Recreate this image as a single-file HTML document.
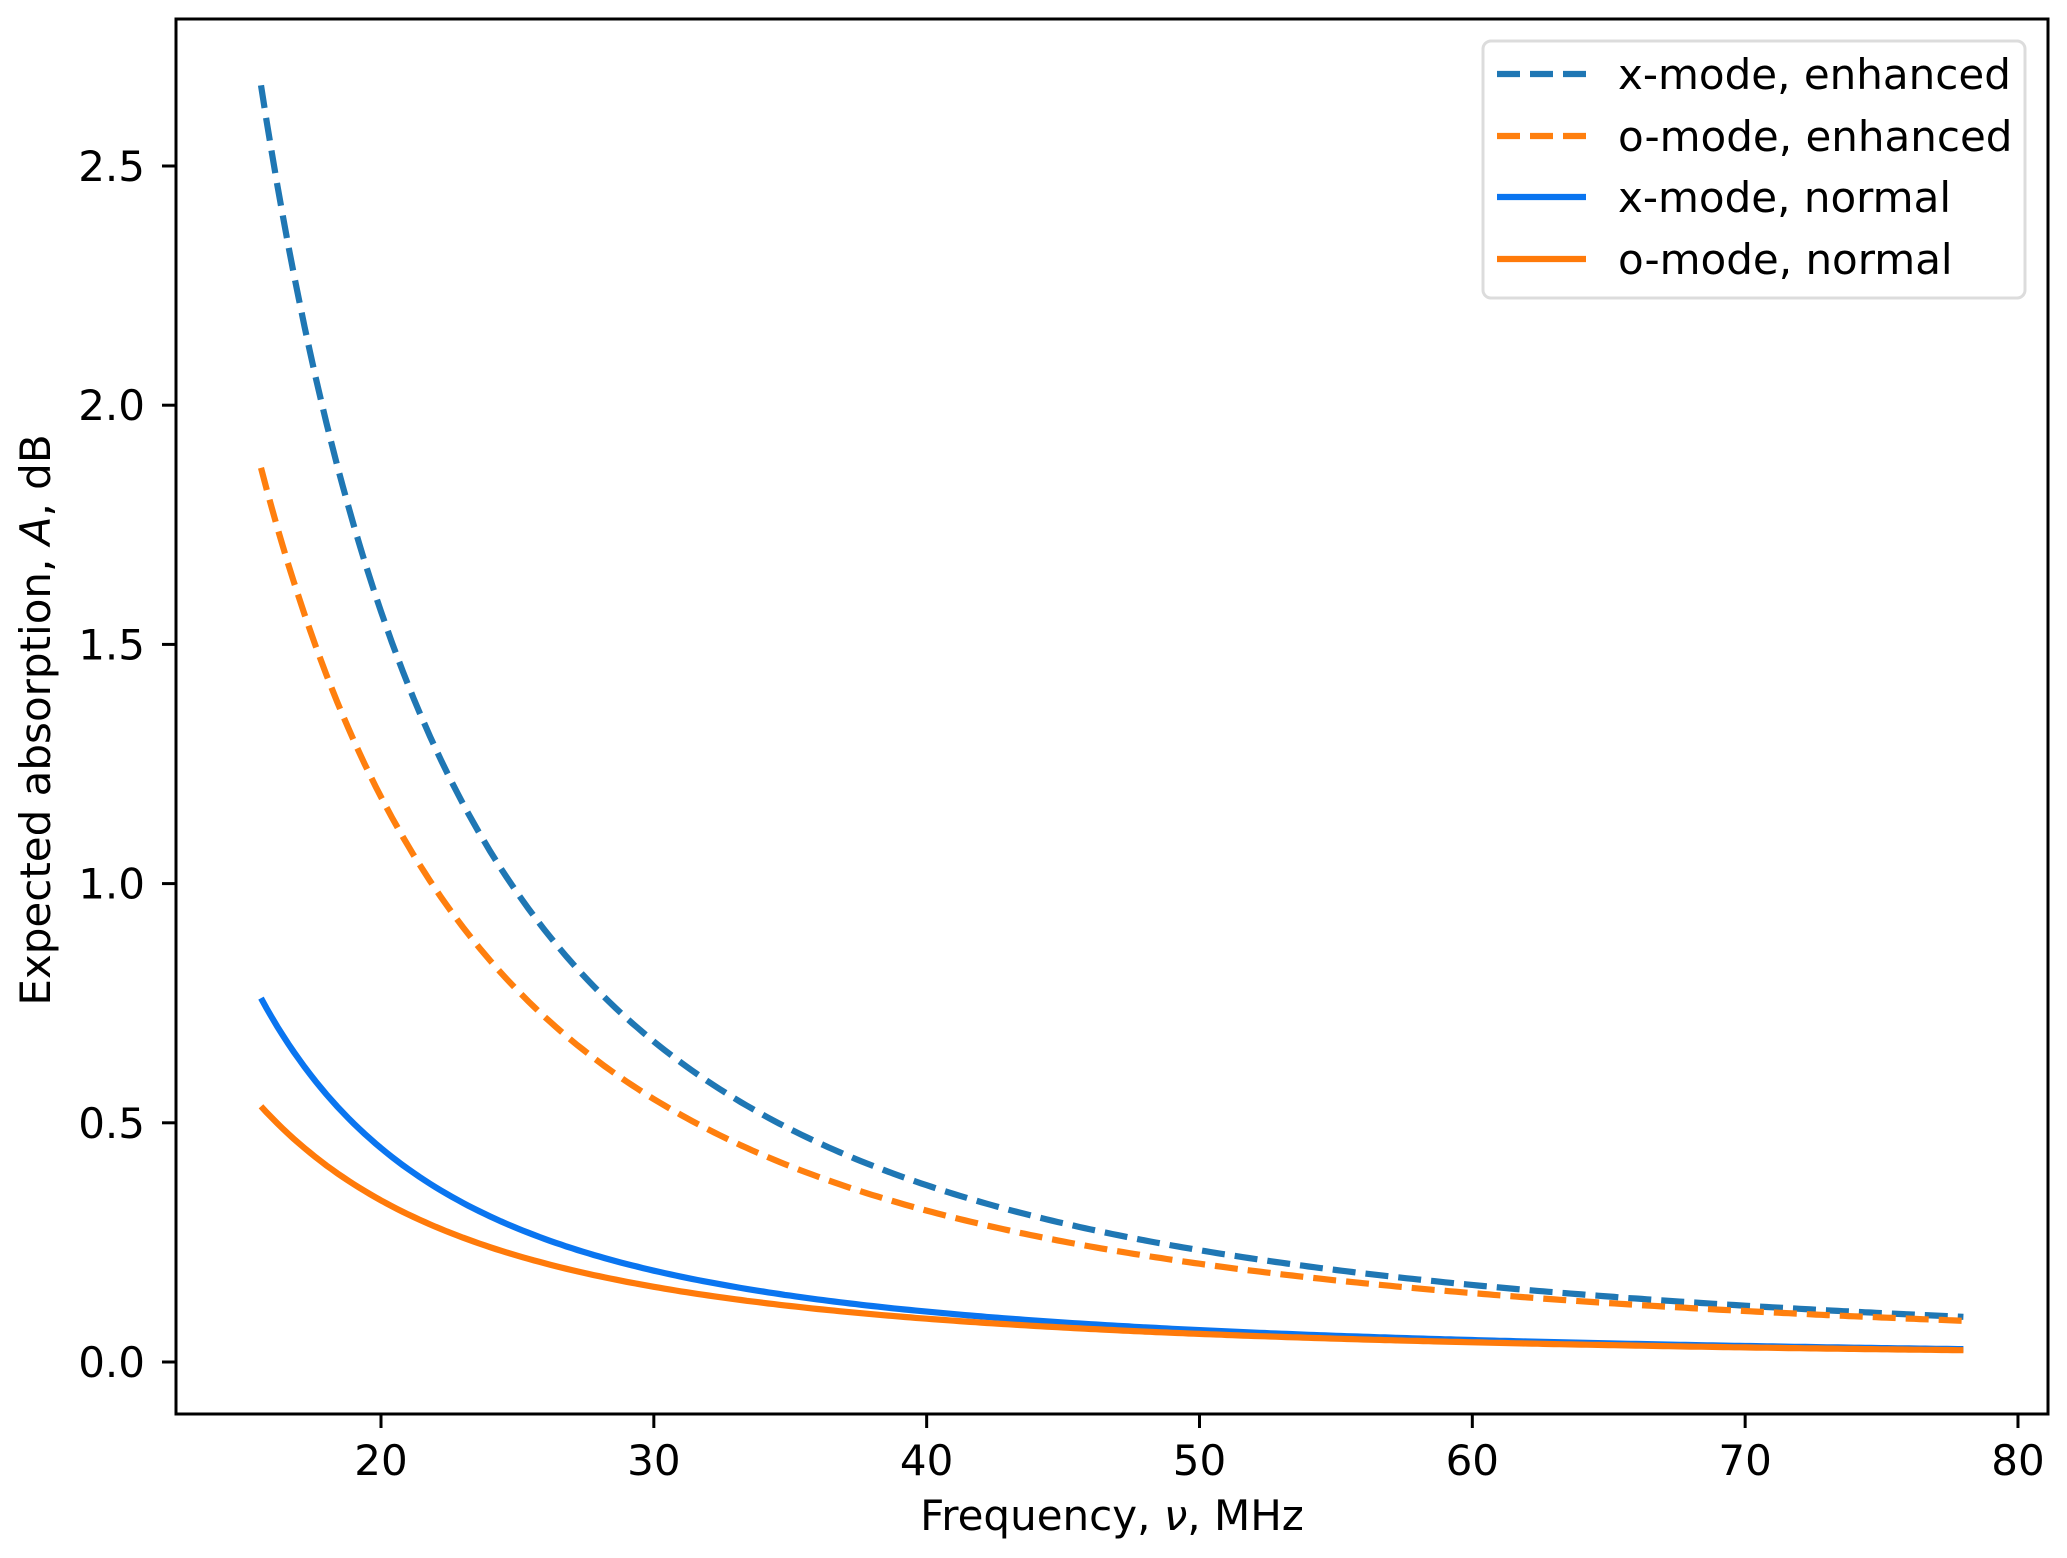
<!DOCTYPE html>
<html><head><meta charset="utf-8"><style>
html,body{margin:0;padding:0;background:#fff;}
svg{display:block;}
text{font-family:"DejaVu Sans","Liberation Sans",sans-serif;fill:#000;}
</style></head><body>
<svg id="s" width="2067" height="1558" viewBox="0 0 2067 1558" xmlns="http://www.w3.org/2000/svg">
<rect width="2067" height="1558" fill="#fff"/>
<g id="curves" fill="none" stroke-width="6.2"></g>
<rect x="176" y="19" width="1872" height="1395" fill="none" stroke="#000" stroke-width="3"/>
<g id="ticks" stroke="#000" stroke-width="3"></g>
<g id="labels" font-size="42"></g>
<text x="1112" y="1530" font-size="42" text-anchor="middle">Frequency, <tspan font-style="italic">ν</tspan>, MHz</text>
<text transform="translate(50,720) rotate(-90)" font-size="42" text-anchor="middle">Expected absorption, <tspan font-style="italic">A</tspan>, dB</text>
<rect x="1483" y="41" width="542" height="257" rx="8" fill="#fff" fill-opacity="0.85" stroke="#dcdcdc" stroke-width="3"/>
<line x1="1497" y1="74" x2="1586" y2="74" stroke="#1f77b4" stroke-width="6.2" stroke-dasharray="23,10"/>
<line x1="1497" y1="136" x2="1586" y2="136" stroke="#ff7f0e" stroke-width="6.2" stroke-dasharray="23,10"/>
<line x1="1497" y1="197" x2="1586" y2="197" stroke="#0a75f0" stroke-width="6.2"/>
<line x1="1497" y1="259" x2="1586" y2="259" stroke="#ff7a0a" stroke-width="6.2"/>
<g font-size="42">
<text x="1618" y="89">x-mode, enhanced</text>
<text x="1618" y="151">o-mode, enhanced</text>
<text x="1618" y="212">x-mode, normal</text>
<text x="1618" y="274">o-mode, normal</text>
</g>
</svg>
<script>
var X=function(v){return 381+(v-20)*27.283;};
var Y=function(a){return 1362-a*478.4;};
var fs={
 xe:function(f){return 558/Math.pow(f-1.14,2);},
 oe:function(f){return 544/Math.pow(f+1.46,2);},
 xn:function(f){return 0.285*558/Math.pow(f-1.14,2);},
 on:function(f){return 0.286*544/Math.pow(f+1.46,2);}
};
function path(fn){var d="";for(var f=15.6;f<=78.001;f+=0.2){d+=(d?"L":"M")+X(f).toFixed(1)+","+Y(fn(f)).toFixed(1);}return d;}
var g=document.getElementById("curves"),ns="http://www.w3.org/2000/svg";
[["xe","#1f77b4",1],["oe","#ff7f0e",1],["xn","#0a75f0",0],["on","#ff7a0a",0]].forEach(function(c){
 var p=document.createElementNS(ns,"path");p.setAttribute("d",path(fs[c[0]]));p.setAttribute("stroke",c[1]);
 if(c[2])p.setAttribute("stroke-dasharray","23,10");g.appendChild(p);});
var t=document.getElementById("ticks"),l=document.getElementById("labels");
for(var v=20;v<=80;v+=10){var x=X(v);
 var ln=document.createElementNS(ns,"line");ln.setAttribute("x1",x);ln.setAttribute("x2",x);ln.setAttribute("y1",1414);ln.setAttribute("y2",1428);t.appendChild(ln);
 var tx=document.createElementNS(ns,"text");tx.setAttribute("x",x);tx.setAttribute("y",1475);tx.setAttribute("text-anchor","middle");tx.textContent=v;l.appendChild(tx);}
for(var a=0;a<=2.5001;a+=0.5){var y=Y(a);
 var ln=document.createElementNS(ns,"line");ln.setAttribute("x1",162);ln.setAttribute("x2",176);ln.setAttribute("y1",y);ln.setAttribute("y2",y);t.appendChild(ln);
 var tx=document.createElementNS(ns,"text");tx.setAttribute("x",145);tx.setAttribute("y",y+15);tx.setAttribute("text-anchor","end");tx.textContent=a.toFixed(1);l.appendChild(tx);}
</script>
</body></html>
